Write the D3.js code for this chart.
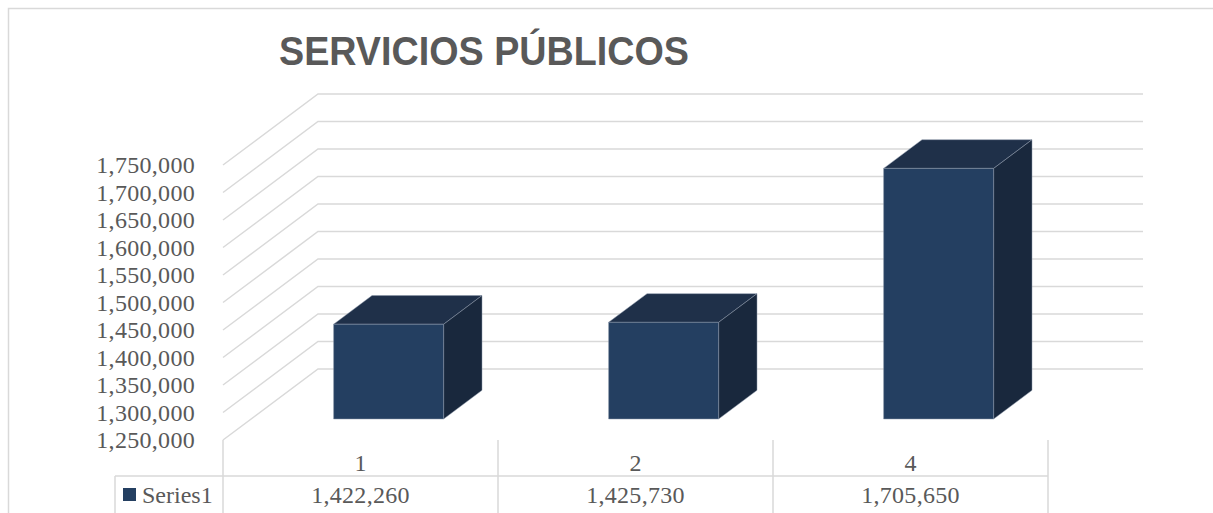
<!DOCTYPE html>
<html>
<head>
<meta charset="utf-8">
<script src="https://cdn.jsdelivr.net/npm/d3@7"></script>
<style>
  body { margin: 0; background: #fff; }
  svg { display: block; }
</style>
</head>
<body>
<svg width="1213" height="513"></svg>
<script>
// data
const categories = ['1', '2', '4'];
const values = [1422260, 1425730, 1705650];
const seriesName = 'Series1';
const tickValues = [1250000, 1300000, 1350000, 1400000, 1450000, 1500000,
    1550000, 1600000, 1650000, 1700000, 1750000];

const svg = d3.select('svg');
const fmt = d3.format(',');

// front plane of the 3d box, back plane is shifted by depth
const depthX = 95;
const depthY = -71;
const y = d3.scaleLinear().domain([1250000, 1750000]).range([440, 165]);
const x = d3.scaleBand().domain(categories).range([223, 1048]);

const gridColor = '#d9d9d9';
const textColor = '#595959';
const serif = '"Liberation Serif", "DejaVu Serif", serif';

// chart border
svg.append('path')
    .attr('d', 'M8.5,520 L8.5,8.5 L1220,8.5')
    .attr('fill', 'none')
    .attr('stroke', gridColor)
    .attr('stroke-width', 1.5);

// title
svg.append('text')
    .attr('x', 484)
    .attr('y', 65)
    .attr('text-anchor', 'middle')
    .attr('textLength', 410)
    .attr('lengthAdjust', 'spacingAndGlyphs')
    .style('font-family', '"Liberation Sans", Arial, sans-serif')
    .style('font-weight', 'bold')
    .style('font-size', '40px')
    .style('fill', textColor)
    .text('SERVICIOS PÚBLICOS');

// gridlines: side wall diagonal + back wall horizontal
const x0 = x.range()[0];
const x1 = x.range()[1];
svg.append('g').selectAll('path')
    .data(tickValues)
    .join('path')
    .attr('d', d => 'M' + x0 + ',' + y(d) +
        ' L' + (x0 + depthX) + ',' + (y(d) + depthY) +
        ' L' + (x1 + depthX) + ',' + (y(d) + depthY))
    .attr('fill', 'none')
    .attr('stroke', gridColor)
    .attr('stroke-width', 1.5);

// y axis labels
const yAxis = d3.axisLeft(y)
    .tickValues(tickValues)
    .tickFormat(fmt)
    .tickSize(0)
    .tickPadding(28);
const yg = svg.append('g')
    .attr('transform', 'translate(' + x0 + ',0)')
    .call(yAxis);
yg.select('.domain').remove();
yg.selectAll('text')
    .style('font-family', serif)
    .style('font-size', '24px')
    .style('letter-spacing', '0.3px')
    .style('fill', textColor);

// 3d bars
const zFront = 0.296;
const zBack = 0.70;
const barW = x.bandwidth() * 0.4;
const pt = (px, py, z) => [px + depthX * z, py + depthY * z];
const poly = (pts) => 'M' + pts.map(p => p.join(',')).join(' L') + ' Z';

const bars = svg.append('g').selectAll('g')
    .data(values)
    .join('g');

const barLeft = (d, i) => x(categories[i]) + (x.bandwidth() - barW) / 2;
const edge = '#8a97a8';

// top face
bars.append('path')
    .attr('d', (d, i) => {
        const l = barLeft(d, i);
        return poly([pt(l, y(d), zFront), pt(l, y(d), zBack),
            pt(l + barW, y(d), zBack), pt(l + barW, y(d), zFront)]);
    })
    .attr('fill', '#1f3049')
    .attr('stroke', edge)
    .attr('stroke-width', 0.5);

// right side face
bars.append('path')
    .attr('d', (d, i) => {
        const r = barLeft(d, i) + barW;
        const b = y.range()[0];
        return poly([pt(r, y(d), zFront), pt(r, y(d), zBack),
            pt(r, b, zBack), pt(r, b, zFront)]);
    })
    .attr('fill', '#19283d')
    .attr('stroke', edge)
    .attr('stroke-width', 0.5);

// front face
bars.append('path')
    .attr('d', (d, i) => {
        const l = barLeft(d, i);
        const b = y.range()[0];
        return poly([pt(l, y(d), zFront), pt(l + barW, y(d), zFront),
            pt(l + barW, b, zFront), pt(l, b, zFront)]);
    })
    .attr('fill', '#243f61')
    .attr('stroke', edge)
    .attr('stroke-width', 0.5);

// data table under the chart
const rowTop = 476;
const rowBottom = 520;
const tableLeft = 115;
const table = svg.append('g')
    .attr('stroke', gridColor)
    .attr('stroke-width', 1.5);

const colEdges = categories.map(c => x(c)).concat([x1]);
table.selectAll('line.col')
    .data(colEdges)
    .join('line')
    .attr('class', 'col')
    .attr('x1', d => d).attr('x2', d => d)
    .attr('y1', y.range()[0]).attr('y2', rowBottom);

table.append('line')
    .attr('x1', tableLeft).attr('x2', x1)
    .attr('y1', rowTop).attr('y2', rowTop);
table.append('line')
    .attr('x1', tableLeft).attr('x2', tableLeft)
    .attr('y1', rowTop).attr('y2', rowBottom);

// category labels
svg.append('g').selectAll('text')
    .data(categories)
    .join('text')
    .attr('x', d => x(d) + x.bandwidth() / 2)
    .attr('y', 463)
    .attr('dy', '0.35em')
    .attr('text-anchor', 'middle')
    .style('font-family', serif)
    .style('font-size', '24px')
    .style('fill', textColor)
    .text(d => d);

// values row
svg.append('g').selectAll('text')
    .data(values)
    .join('text')
    .attr('x', (d, i) => x(categories[i]) + x.bandwidth() / 2)
    .attr('y', 495)
    .attr('dy', '0.35em')
    .attr('text-anchor', 'middle')
    .style('font-family', serif)
    .style('font-size', '24px')
    .style('letter-spacing', '0.3px')
    .style('fill', textColor)
    .text(d => fmt(d));

// legend key in the table
svg.append('rect')
    .attr('x', 123)
    .attr('y', 488)
    .attr('width', 13)
    .attr('height', 13)
    .attr('fill', '#243f61');
svg.append('text')
    .attr('x', 142)
    .attr('y', 495)
    .attr('dy', '0.35em')
    .style('font-family', serif)
    .style('font-size', '24px')
    .style('fill', textColor)
    .text(seriesName);
</script>
</body>
</html>
